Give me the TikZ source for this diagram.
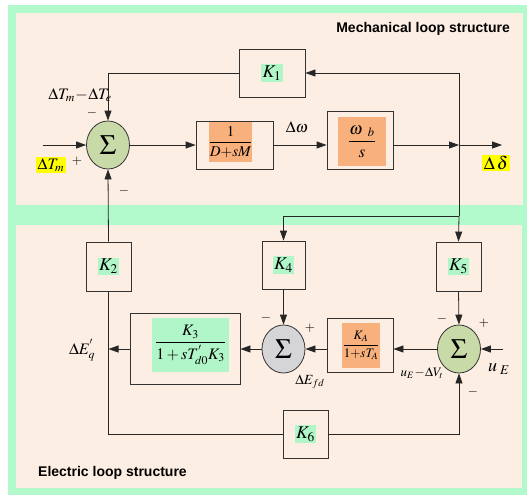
\documentclass[tikz,border=0pt]{standalone}
\usepackage{mathptmx}
\usepackage{fontspec}
\setmainfont{Liberation Serif}
\newfontfamily\titlefont{Liberation Sans}
\usetikzlibrary{arrows.meta,shapes.geometric}
\definecolor{mint}{HTML}{B2F9CB}
\definecolor{beige}{HTML}{FDEEE4}
\definecolor{sumgreen}{HTML}{C8DAA8}
\definecolor{sumgray}{HTML}{D5D5D8}
\definecolor{orangefill}{HTML}{F8B07C}
\definecolor{labgreen}{HTML}{B0F6C8}
\definecolor{hiyellow}{HTML}{FFFF00}
\tikzset{
  blk/.style={draw=black!80, line width=0.8pt, inner sep=0pt},
  gainlab/.style={fill=labgreen, inner sep=1.5pt, font=\fontsize{18}{20}\selectfont},
  orlab/.style={fill=orangefill, inner sep=0pt},
  grlab/.style={fill=labgreen, inner sep=0pt},
  sumnode/.style={ellipse, draw=black!80, line width=0.8pt, minimum width=43pt, minimum height=48pt, inner sep=0pt, font=\fontsize{28}{30}\selectfont},
  conn/.style={line width=0.8pt, draw=black!85},
  arr/.style={conn, -{Triangle[length=10pt,width=7pt]}},
  lab/.style={inner sep=0pt, font=\fontsize{16}{18}\selectfont},
  sgn/.style={inner sep=0pt, font=\fontsize{13}{15}\selectfont},
  ttl/.style={inner sep=0pt, font=\titlefont\bfseries\fontsize{14}{16}\selectfont},
}
\begin{document}
\begin{tikzpicture}[x=1pt,y=-1pt]
\useasboundingbox (0,0) rectangle (527,496);
% backgrounds
\fill[mint] (8,5) rectangle (527,495);
\fill[beige] (16,13) rectangle (523,205);
\fill[beige] (16,225) rectangle (522,488);
\node[ttl, anchor=east] (tmech) at (510,29) {Mechanical loop structure};
\node[ttl, anchor=west] (telec) at (38,473) {Electric loop structure};

% summing junctions
\node[sumnode, fill=sumgreen] (s1) at (108,145) {$\Sigma$};
\node[sumnode, fill=sumgray] (s2) at (283.5,349) {$\Sigma$};
\node[sumnode, fill=sumgreen] (s3) at (459,349) {$\Sigma$};

% gain boxes
\node[blk, minimum width=66pt, minimum height=48pt] (k1) at (272,73) {};
\node[gainlab] (k1t) at (k1) {$K_1$};
\node[blk, minimum width=45pt, minimum height=49pt] (k2) at (108.5,266.5) {};
\node[gainlab] (k2t) at (k2) {$K_2$};
\node[blk, minimum width=43pt, minimum height=48pt] (k4) at (283.5,265) {};
\node[gainlab] (k4t) at (k4) {$K_4$};
\node[blk, minimum width=45pt, minimum height=49pt] (k5) at (458.5,266.5) {};
\node[gainlab] (k5t) at (k5) {$K_5$};
\node[blk, minimum width=45pt, minimum height=48pt] (k6) at (305.5,434) {};
\node[gainlab] (k6t) at (k6) {$K_6$};

% transfer function blocks
\node[blk, minimum width=77pt, minimum height=48pt] (b1) at (234.5,145) {};
\node[orlab, minimum width=43pt, minimum height=40pt, font=\fontsize{15}{17}\selectfont] (b1t) at (230.5,142) {$\displaystyle\frac{1}{D{+}sM}$};
\node[blk, minimum width=66pt, minimum height=58pt] (b2) at (360,140) {};
\node[orlab, minimum width=48pt, minimum height=49pt, font=\fontsize{17}{19}\selectfont] (b2t) at (362,141.5) {$\displaystyle\frac{\omega_{\;\;\,b}}{s}$};
\node[blk, minimum width=66pt, minimum height=54pt] (ka) at (360,345) {};
\node[orlab, minimum width=38pt, minimum height=45pt, font=\fontsize{13}{15}\selectfont] (kat) at (361,345.5) {$\displaystyle\frac{K_A}{1{+}sT_A}$};
\node[blk, minimum width=110pt, minimum height=71pt] (k3) at (185,348.5) {};
\node[grlab, minimum width=77pt, minimum height=54pt, font=\fontsize{16}{18}\selectfont] (k3t) at (190.5,345) {$\displaystyle\frac{K_3}{1+sT_{d0}^{'}K_3}$};

% coordinates
\coordinate (in1) at (43,145);
\coordinate (j1) at (459,145);
\coordinate (out) at (502,145);
\coordinate (j2) at (459,216);
\coordinate (inE) at (503,349);

% mechanical loop
\draw[arr] (in1) -- (s1.west);
\draw[arr] (s1.east) -- (b1.west);
\draw[arr] (b1.east) -- (b1.east -| b2.west);
\draw[arr] (j1 -| b2.east) -- (j1);
\draw[arr] (j1) -- (out);
\draw[arr] (j1) |- (k1.east);
\draw[arr] (k1.west) -| (s1.north);
% electric loop
\draw[conn] (j1) -- (j2);
\draw[arr] (j2) -- (k5.north);
\draw[arr] (j2) -| (k4.north);
\draw[arr] (k4.south) -- (s2.north);
\draw[arr] (k5.south) -- (s3.north);
\draw[arr] (inE) -- (s3.east);
\draw[arr] (s3.west) -- (s3.west -| ka.east);
\draw[arr] (s3.west -| ka.west) -- (s2.east);
\draw[arr] (s2.west) -- (s2.west -| k3.east);
\draw[arr] (s2.west -| k3.west) -- (s2.west -| k2.south);
\draw[arr] (k2.north) -- (s1.south);
\draw[conn] (k2.south) |- (k6.west);
\draw[arr] (k6.east) -| (s3.south);

% labels
\node[lab] (ldt) at (80,95) {$\Delta T_m\!-\!\Delta T_e$};
\node[lab, fill=hiyellow, inner sep=1.5pt] (ltm) at (51,165) {$\Delta T_m$};
\node[sgn] (p1) at (77,161) {$+$};
\node[sgn] (m1) at (92,113) {$-$};
\node[sgn] (m2) at (124,191) {$-$};
\node[lab] (ldw) at (297,127) {$\Delta\omega$};
\node[lab, fill=hiyellow, inner sep=1.5pt, font=\fontsize{18}{20}\selectfont] (ldd) at (496,163) {$\Delta\,\delta$};
\node[lab] (leq) at (82,350) {$\Delta E_q^{'}$};
\node[sgn] (m3) at (266,318) {$-$};
\node[sgn] (p3) at (310,328) {$+$};
\node[sgn] (m4) at (442,319) {$-$};
\node[sgn] (p4) at (484,323) {$+$};
\node[sgn] (m5) at (473,392) {$-$};
\node[lab, font=\fontsize{18}{20}\selectfont] (lue) at (499,369) {$u_{\;E}$};
\node[lab, font=\fontsize{13}{15}\selectfont] (luv) at (422,373) {$u_E\!-\!\Delta V_t$};
\node[lab, font=\fontsize{14}{16}\selectfont] (lefd) at (310,382) {$\Delta E_{fd}$};
\end{tikzpicture}
\end{document}
